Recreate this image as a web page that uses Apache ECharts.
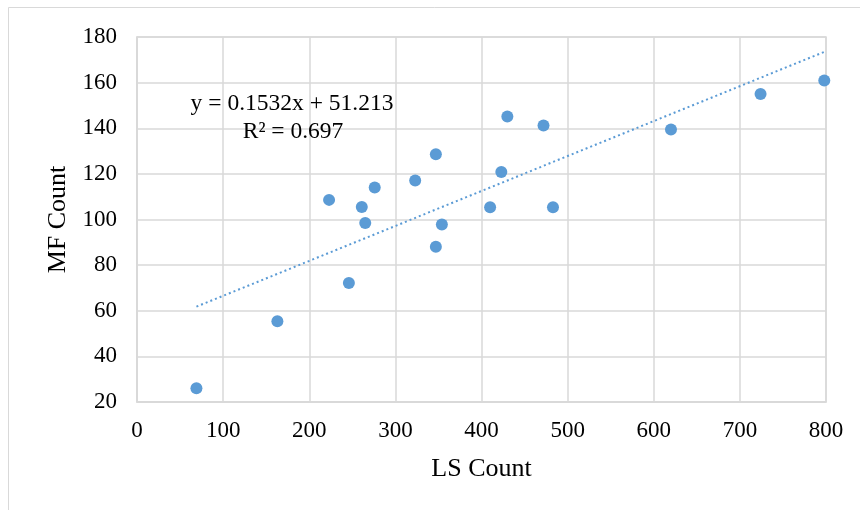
<!DOCTYPE html>
<html lang="en">
<head>
    <meta charset="UTF-8">
    <title>LS vs MF</title>
    <script src="https://cdn.jsdelivr.net/npm/echarts@6/dist/echarts.min.js"></script>
    <style>
        html, body { margin: 0; padding: 0; background: #fff; }
        #chart { width: 860px; height: 510px; }
    </style>
</head>
<body>
    <div id="chart"></div>
    <script>
        // data
        var lsCount = [69, 163, 223, 246, 261, 265, 276, 323, 347, 347, 354, 410, 423, 430, 472, 483, 620, 724, 798];
        var mfCount = [26, 55.4, 108.6, 72.2, 105.5, 98.5, 114, 117.1, 128.6, 88.1, 97.8, 105.4, 120.8, 145.2, 141.2, 105.4, 139.5, 155, 160.9];
        var xTicks = { min: 0, max: 800, step: 100 };
        var yTicks = { min: 20, max: 180, step: 20 };
        // trendline as printed on the chart
        var slope = 0.1532;
        var intercept = 51.213;
        var trendX = [69, 800];
        var trendLabel = ['y = 0.1532x + 51.213', 'R² = 0.697'];

        var points = [];
        for (var i = 0; i < lsCount.length; i++) {
            points.push([lsCount[i], mfCount[i]]);
        }
        var trend = [];
        for (var j = 0; j < trendX.length; j++) {
            trend.push([trendX[j], slope * trendX[j] + intercept]);
        }

        var font = '"Liberation Serif", "Times New Roman", serif';
        var gridColor = '#d9d9d9';

        var myChart = echarts.init(document.getElementById('chart'));
        var option = {
            animation: false,
            backgroundColor: '#fff',
            graphic: [{
                type: 'rect',
                shape: { x: 8.5, y: 7.5, width: 900, height: 600 },
                style: { fill: 'none', stroke: '#d9d9d9', lineWidth: 1 },
                silent: true
            }, {
                type: 'text',
                z: 10,
                style: {
                    text: trendLabel[0],
                    x: 292, y: 104,
                    font: '23.5px ' + font,
                    fill: '#000',
                    align: 'center',
                    verticalAlign: 'middle'
                }
            }, {
                type: 'text',
                z: 10,
                style: {
                    text: trendLabel[1],
                    x: 293, y: 132,
                    font: '23.5px ' + font,
                    fill: '#000',
                    align: 'center',
                    verticalAlign: 'middle'
                }
            }],
            grid: {
                left: 137,
                right: 34,
                top: 37,
                bottom: 108,
                show: true,
                borderColor: gridColor,
                borderWidth: 1.5
            },
            xAxis: {
                type: 'value',
                min: xTicks.min,
                max: xTicks.max,
                interval: xTicks.step,
                name: 'LS Count',
                nameLocation: 'middle',
                nameGap: 54,
                nameTextStyle: { fontFamily: font, fontSize: 26, color: '#000' },
                axisLine: { show: true, lineStyle: { color: gridColor, width: 1.5 } },
                axisTick: { show: false },
                axisLabel: { fontFamily: font, fontSize: 23, color: '#000', margin: 17 },
                splitLine: { lineStyle: { color: gridColor, width: 1.5 } }
            },
            yAxis: {
                type: 'value',
                min: yTicks.min,
                max: yTicks.max,
                interval: yTicks.step,
                name: 'MF Count',
                nameLocation: 'middle',
                nameGap: 66,
                nameTextStyle: { fontFamily: font, fontSize: 26, color: '#000' },
                axisLine: { show: true, lineStyle: { color: gridColor, width: 1.5 } },
                axisTick: { show: false },
                axisLabel: { fontFamily: font, fontSize: 23, color: '#000', margin: 20 },
                splitLine: { lineStyle: { color: gridColor, width: 1.5 } }
            },
            series: [{
                name: 'trend',
                type: 'line',
                data: trend,
                symbol: 'none',
                silent: true,
                z: 1,
                lineStyle: { color: '#5b9bd5', width: 2, type: [2, 3] }
            }, {
                name: 'MF',
                type: 'scatter',
                data: points,
                symbolSize: 12,
                z: 2,
                itemStyle: { color: '#5b9bd5', opacity: 1 }
            }]
        };
        myChart.setOption(option);
    </script>
</body>
</html>
